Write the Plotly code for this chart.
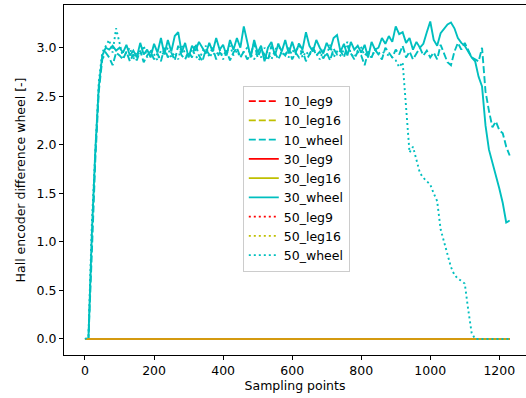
import plotly.graph_objects as go

# Sampling points (every 10th sample)
x = list(range(0, 1240, 10))  # 0 .. 1230

wheel_10 = [
    0.0, 0.0, 0.9, 1.85, 2.55, 2.88, 2.95, 2.9, 2.82, 2.95,
    2.92, 2.88, 2.96, 2.86, 2.93, 2.87, 2.97, 2.85, 2.92, 2.96,
    2.88, 2.94, 2.86, 3.0, 2.9, 2.95, 2.87, 3.02, 2.92, 2.88,
    2.96, 2.9, 3.04, 2.92, 2.86, 2.98, 2.93, 3.0, 2.88, 2.95,
    2.92, 2.97, 2.87, 2.95, 3.0, 2.9, 2.96, 2.88, 2.93, 3.05,
    2.9, 2.98, 2.93, 2.87, 3.02, 2.95, 2.88, 2.96, 2.92, 3.0,
    2.88, 2.95, 2.9, 2.97, 2.86, 2.93, 3.0, 2.92, 2.96, 2.89,
    2.95, 2.87, 2.99, 2.93, 2.97, 2.9, 3.02, 2.94, 2.88, 2.96,
    2.92, 2.82, 2.96, 2.9, 2.98, 2.93, 2.88, 3.0, 2.95, 2.9,
    2.98, 2.93, 3.02, 2.9, 2.96, 2.88, 2.94, 3.0, 2.92, 2.97,
    2.9, 2.95, 2.88, 3.03, 2.94, 2.85, 2.82, 2.96, 3.05, 2.98,
    3.05, 2.98, 2.9, 2.88, 2.86, 3.0, 2.55, 2.35, 2.18, 2.24,
    2.15, 2.12, 1.98, 1.89,
]

wheel_30 = [
    0.0, 0.0, 1.1, 1.95, 2.6, 2.92, 3.0, 2.98, 3.02, 2.97,
    3.0, 2.95, 3.03, 2.92, 2.97, 2.9, 3.05, 2.93, 2.98, 2.9,
    3.04, 2.95, 3.1, 2.93, 3.08, 2.96, 3.12, 3.16, 2.95, 3.05,
    2.9, 3.02, 2.97, 3.06, 3.0, 2.94, 3.05, 2.96, 3.1, 2.98,
    3.03, 2.92, 3.08, 2.98, 3.1, 3.0, 3.22, 3.05, 2.9, 3.08,
    2.95, 3.02, 2.86, 3.0, 3.06, 2.92, 3.04, 2.96, 3.08, 2.94,
    3.06, 2.95, 3.04, 2.98, 3.16, 3.02, 2.96, 3.08, 3.0, 2.94,
    3.05, 2.98, 3.1, 3.13, 2.96, 3.04, 2.92, 3.06, 2.98, 3.02,
    2.95, 3.03, 2.9, 3.06, 2.98, 3.0, 3.1, 3.04, 3.12, 3.06,
    3.22, 3.14, 3.16, 3.05, 3.1, 2.98, 3.06, 3.0, 3.04, 3.16,
    3.27, 3.08, 3.02, 3.15, 3.2, 3.24, 3.26, 3.2, 3.1, 3.05,
    3.02, 2.96, 2.9, 2.86, 2.7, 2.6, 2.2, 1.95, 1.82, 1.7,
    1.55, 1.4, 1.2, 1.22,
]

wheel_50 = [
    0.0, 0.02, 1.2, 2.0, 2.65, 2.95, 3.02, 3.08, 2.95, 3.2,
    3.05, 2.9, 2.95, 3.0, 2.88, 2.96, 2.92, 3.02, 2.9, 2.98,
    2.93, 2.87, 2.97, 2.92, 3.0, 2.9, 2.95, 2.88, 3.02, 2.94,
    2.9, 2.98, 2.92, 2.87, 2.96, 3.02, 2.9, 2.95, 2.92, 2.98,
    2.88, 2.95, 3.02, 2.92, 2.97, 2.9, 2.96, 3.0, 2.93, 2.88,
    2.96, 2.9, 3.0, 2.94, 2.88, 2.97, 3.04, 2.92, 2.96, 2.9,
    2.98, 2.93, 3.05, 2.9, 2.96, 2.92, 3.0, 2.94, 2.88, 2.97,
    2.93, 3.03, 2.9, 2.96, 2.92, 2.98, 3.06, 2.94, 2.9, 2.97,
    3.0, 2.92, 2.96, 2.9, 2.98, 2.94, 2.96, 2.94, 2.92, 2.9,
    2.87, 2.8, 2.85, 2.36, 1.92, 1.98, 1.85, 1.71, 1.66, 1.62,
    1.59, 1.5, 1.42, 1.13, 1.0, 0.88, 0.74, 0.66, 0.62, 0.6,
    0.57, 0.3, 0.06, 0.0, 0.0, 0.0, 0.0, 0.0, 0.0, 0.0,
    0.0, 0.0, 0.0, 0.0,
]

# leg9 / leg16 encoder differences stay at zero for all runs
leg9_10 = [0.0] * len(x)
leg16_10 = [0.0] * len(x)
leg9_30 = [0.0] * len(x)
leg16_30 = [0.0] * len(x)
leg9_50 = [0.0] * len(x)
leg16_50 = [0.0] * len(x)

RED = "#ff0000"
YEL = "#bfbf00"
CYA = "#00bfbf"
LW = 1.9
DASH = "7px,3px"
DOT = "2px,3px"

fig = go.Figure()

def add(name, y, color, dash, rank, showlegend=True):
    fig.add_trace(go.Scatter(
        x=x, y=y, mode="lines", name=name,
        line=dict(color=color, width=LW, dash=dash),
        legendrank=rank, showlegend=showlegend,
    ))

add("10_leg9", leg9_10, RED, DASH, 1)
add("10_leg16", leg16_10, YEL, DASH, 2)
add("10_wheel", wheel_10, CYA, DASH, 3)
add("30_leg9", leg9_30, RED, "solid", 4)
add("30_leg16", leg16_30, YEL, "solid", 5)
add("30_wheel", wheel_30, CYA, "solid", 6)
add("50_leg9", leg9_50, RED, DOT, 7)
add("50_leg16", leg16_50, YEL, DOT, 8)
# blended appearance of the overlapping red/yellow zero lines
fig.add_trace(go.Scatter(
    x=x, y=leg16_50, mode="lines", showlegend=False, hoverinfo="skip",
    line=dict(color="#d49a10", width=LW),
))
add("50_wheel", wheel_50, CYA, DOT, 9)

FONT = dict(family="DejaVu Sans", size=12.5, color="#000000")

fig.update_layout(
    width=526, height=398,
    margin=dict(l=64, r=0, t=5, b=43),
    paper_bgcolor="white", plot_bgcolor="white",
    font=FONT,
    showlegend=True,
    legend=dict(
        x=0.387, y=0.77, xanchor="left", yanchor="top",
        bgcolor="rgba(255,255,255,0.8)", bordercolor="#cccccc", borderwidth=1,
        font=FONT, tracegroupgap=0,
    ),
    xaxis=dict(
        range=[-60.8, 1277.3], dtick=200, tick0=0, automargin=False,
        showgrid=False, zeroline=False,
        showline=True, linecolor="black", linewidth=1, mirror=True,
        ticks="outside", ticklen=4, tickwidth=1, tickcolor="black",
        title=dict(text="Sampling points", font=FONT, standoff=4),
    ),
    yaxis=dict(
        range=[-0.165, 3.44], dtick=0.5, tick0=0, tickformat=".1f", automargin=False,
        showgrid=False, zeroline=False,
        showline=True, linecolor="black", linewidth=1, mirror=False,
        ticks="outside", ticklen=4, tickwidth=1, tickcolor="black",
        title=dict(text="Hall encoder difference wheel [-]", font=FONT, standoff=8),
    ),
)

fig.write_html("out.html", config={"displayModeBar": False},
               post_script="document.body.style.margin='0';")
